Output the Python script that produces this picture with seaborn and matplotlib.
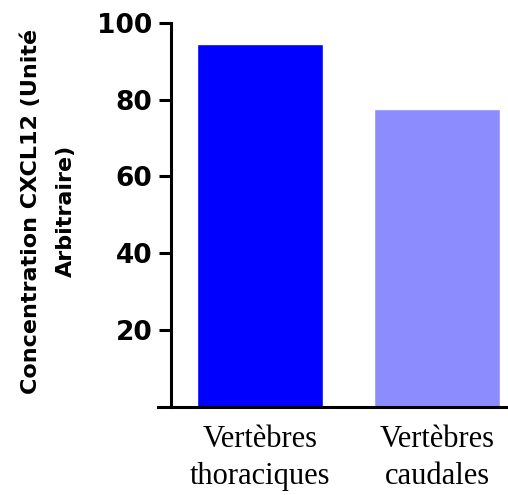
import matplotlib
matplotlib.use("Agg")
import matplotlib.pyplot as plt
import seaborn as sns
import pandas as pd

# données
categories = ["Vertèbres\nthoraciques", "Vertèbres\ncaudales"]
valeurs = [94.5, 77.5]
couleurs = ["#0000FF", "#8C8CFF"]
yticks = [20, 40, 60, 80, 100]

df = pd.DataFrame({"groupe": categories, "conc": valeurs})

sns.set_style("white")
plt.rcParams["font.family"] = ["DejaVu Sans"]
plt.rcParams["text.color"] = "black"
plt.rcParams["axes.labelcolor"] = "black"
plt.rcParams["xtick.color"] = "black"
plt.rcParams["ytick.color"] = "black"

fig = plt.figure(figsize=(5.08, 4.95), dpi=100)
ax = fig.add_axes([0.311, 0.178, 0.689, 0.776])

sns.barplot(data=df, x="groupe", y="conc", hue="groupe", palette=couleurs,
            width=0.71, legend=False, saturation=1, ax=ax)

ax.set_xlim(-0.576, 1.40)
ax.set_ylim(0, 100)
ax.set_yticks(yticks)
ax.set_xticks(range(len(categories)))

for s in ["top", "right"]:
    ax.spines[s].set_visible(False)
ax.spines["left"].set_position(("data", -0.5))
ax.spines["left"].set_linewidth(2.2)
ax.spines["bottom"].set_linewidth(2.2)
ax.spines["left"].set_color("black")
ax.spines["bottom"].set_color("black")

ax.tick_params(axis="y", length=8.6, width=2.2, pad=5, left=True,
               labelsize=19)
ax.tick_params(axis="x", length=0, pad=13)

ax.set_yticklabels([str(v) for v in yticks], fontsize=19, fontweight="bold")
ax.set_xticklabels(categories, fontsize=22, family="Liberation Serif",
                   linespacing=1.35)

ax.set_xlabel("")
ax.set_ylabel("Concentration CXCL12 (Unité\nArbitraire)", fontsize=16,
              fontweight="bold", linespacing=1.9)
ax.yaxis.set_label_coords(-0.235, 0.51)

fig.savefig("out.png", dpi=100)
